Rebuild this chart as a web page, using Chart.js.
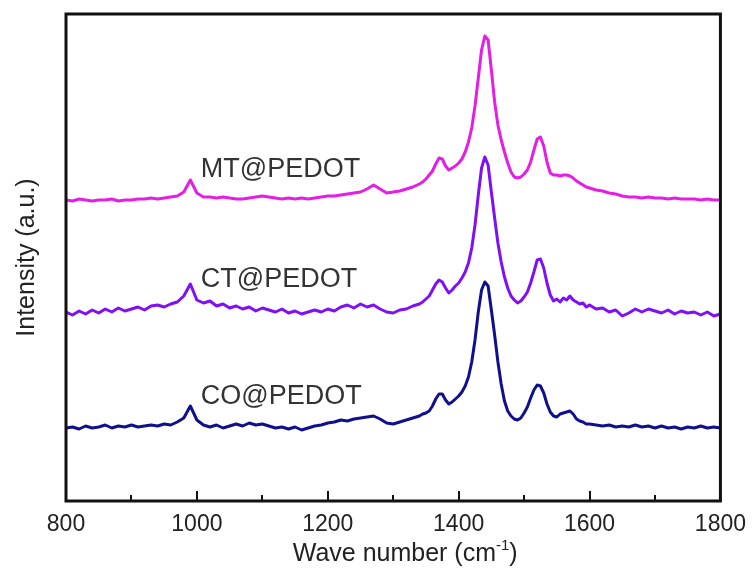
<!DOCTYPE html>
<html>
<head>
<meta charset="utf-8">
<script src="https://cdn.jsdelivr.net/npm/chart.js@4"></script>
<style>
html,body{margin:0;padding:0;background:#fff;}
#wrap{width:756px;height:579px;position:relative;}
</style>
</head>
<body>
<div id="wrap"><canvas id="c" width="756" height="579"></canvas></div>
<script>
// Wave numbers (cm-1)
const waveNumbers = [800,810,820,830,840,850,860,870,880,890,900,910,920,930,940,950,960,970,980,990,1000,1010,1020,1030,1040,1050,1060,1070,1080,1090,1100,1110,1120,1130,1140,1150,1160,1170,1180,1190,1200,1210,1220,1230,1240,1250,1260,1270,1280,1290,1300,1310,1320,1330,1340,1345,1350,1355,1360,1365,1370,1375,1380,1385,1390,1395,1400,1405,1410,1415,1420,1425,1430,1435,1440,1445,1450,1455,1460,1465,1470,1475,1480,1485,1490,1495,1500,1505,1510,1515,1520,1525,1530,1535,1540,1545,1550,1555,1560,1565,1570,1575,1580,1585,1590,1595,1600,1610,1620,1630,1640,1650,1660,1670,1680,1690,1700,1710,1720,1730,1740,1750,1760,1770,1780,1790,1800];

// Intensities (a.u., stacked with offsets as in the figure)
const mtPedot = [301,300,302,301,300,301,301,302,300,301,301,302,302,303,302,303,304,305,309,321,308,304,304,303,304,303,302,302,303,304,305,304,303,302,303,302,303,302,303,304,305,305,306,307,308,309,312,316,312,308,309,310,312,314,317,319,322,326,330,337,343,342,335,331,333,335,338,342,349,359,373,395,423,451,465,461,431,399,376,361,349,338,329,324,323,324,327,331,339,351,362,364,355,339,328,326,326,325,326,326,325,323,320,318,316,314,313,311,310,308,307,305,304,304,303,304,303,303,302,303,302,302,302,301,302,301,301];

const ctPedot = [189,186,190,187,191,188,192,189,193,190,192,194,191,195,196,194,197,199,205,217,201,198,200,195,197,193,195,192,194,190,193,191,189,192,188,190,187,189,191,189,192,190,194,196,193,197,194,196,192,189,188,191,192,195,197,199,202,205,211,217,221,219,213,208,211,215,218,223,229,238,253,276,306,333,344,336,309,283,258,239,224,213,205,201,198,200,204,209,218,229,241,242,233,218,206,200,202,199,203,201,205,201,199,197,198,194,196,192,193,189,191,185,188,192,189,192,190,188,191,187,190,188,189,186,189,185,187];

const coPedot = [73,74,72,75,73,74,76,73,75,74,76,74,75,76,75,77,76,79,83,95,81,76,74,76,73,75,77,75,78,76,77,75,73,74,72,74,71,73,75,76,78,79,81,80,82,83,84,85,82,78,77,79,81,83,85,87,88,90,95,102,107,107,101,97,99,102,105,109,115,124,139,161,189,211,219,215,191,166,139,117,100,90,85,82,81,83,88,94,103,111,116,115,108,97,89,85,84,87,88,89,90,87,82,80,79,77,77,76,75,76,74,75,74,76,74,75,73,75,73,74,72,74,73,75,73,74,73];

const seriesNames = ["MT@PEDOT", "CT@PEDOT", "CO@PEDOT"];
const seriesColors = ["#e41ee4", "#7f10f5", "#10108e"];
// label anchors (wave number, intensity) for the in-plot texts
const labelX = [1006, 1006, 1006];
const labelY = [331, 221, 104];

const xTickLabels = [800, 1000, 1200, 1400, 1600, 1800];
const xMinorTicks = [900, 1100, 1300, 1500, 1700];
const xMajorTicks = [1000, 1200, 1400, 1600];

const FONT = "'Liberation Sans', Arial, sans-serif";
const allSeries = [mtPedot, ctPedot, coPedot];

const datasets = allSeries.map((s, k) => ({
  label: seriesNames[k],
  data: waveNumbers.map((w, i) => ({x: w, y: s[i]})),
  borderColor: seriesColors[k],
  backgroundColor: seriesColors[k],
  borderWidth: 3,
  pointRadius: 0,
  tension: 0,
  borderJoinStyle: 'round',
  fill: false
}));

const decor = {
  id: 'decor',
  afterDatasetsDraw(chart) {
    const ctx = chart.ctx;
    const a = chart.chartArea;
    const xs = chart.scales.x, ys = chart.scales.y;
    ctx.save();
    // in-plot labels
    ctx.fillStyle = '#333';
    ctx.font = '27px ' + FONT;
    ctx.textAlign = 'left';
    ctx.textBaseline = 'middle';
    seriesNames.forEach((n, k) => {
      ctx.fillText(n, xs.getPixelForValue(labelX[k]), ys.getPixelForValue(labelY[k]));
    });
    // frame
    ctx.strokeStyle = '#111';
    ctx.lineWidth = 3;
    ctx.strokeRect(a.left, a.top, a.right - a.left, a.bottom - a.top);
    // inward ticks
    ctx.lineWidth = 2;
    xMajorTicks.forEach(v => {
      const x = Math.round(xs.getPixelForValue(v));
      ctx.beginPath(); ctx.moveTo(x, a.bottom); ctx.lineTo(x, a.bottom - 10); ctx.stroke();
    });
    xMinorTicks.forEach(v => {
      const x = Math.round(xs.getPixelForValue(v));
      ctx.beginPath(); ctx.moveTo(x, a.bottom); ctx.lineTo(x, a.bottom - 6); ctx.stroke();
    });
    // axis titles
    ctx.fillStyle = '#222';
    ctx.font = '25px ' + FONT;
    ctx.textBaseline = 'alphabetic';
    const t1 = 'Wave number (cm', sup = '-1', t2 = ')';
    const w1 = ctx.measureText(t1).width;
    const w2 = ctx.measureText(t2).width;
    ctx.font = '15px ' + FONT;
    const ws = ctx.measureText(sup).width;
    const total = w1 + ws + w2;
    const cx = (a.left + a.right) / 2 + 12;
    let x0 = cx - total / 2;
    const base = 561;
    ctx.font = '25px ' + FONT;
    ctx.fillText(t1, x0, base);
    ctx.font = '15px ' + FONT;
    ctx.fillText(sup, x0 + w1, base - 11);
    ctx.font = '25px ' + FONT;
    ctx.fillText(t2, x0 + w1 + ws, base);
    // y title
    ctx.save();
    ctx.translate(27, (a.top + a.bottom) / 2);
    ctx.rotate(-Math.PI / 2);
    ctx.textAlign = 'center';
    ctx.textBaseline = 'middle';
    ctx.fillText('Intensity (a.u.)', 0, 0);
    ctx.restore();
    ctx.restore();
  }
};

new Chart(document.getElementById('c'), {
  type: 'line',
  data: { datasets },
  options: {
    responsive: false,
    animation: false,
    events: [],
    layout: { padding: { left: 66, top: 14, right: 34, bottom: 0 } },
    plugins: { legend: { display: false }, tooltip: { enabled: false } },
    scales: {
      x: {
        type: 'linear',
        min: 800, max: 1800,
        afterFit(s) { s.height = 78; },
        border: { display: false },
        grid: { display: false, drawTicks: false },
        ticks: {
          stepSize: 200,
          autoSkip: false,
          maxRotation: 0,
          padding: 10,
          color: '#222',
          font: { family: FONT, size: 23 },
          callback: v => xTickLabels.includes(v) ? String(v) : ''
        }
      },
      y: { display: false, min: 0, max: 487 }
    }
  },
  plugins: [decor]
});
</script>
</body>
</html>
